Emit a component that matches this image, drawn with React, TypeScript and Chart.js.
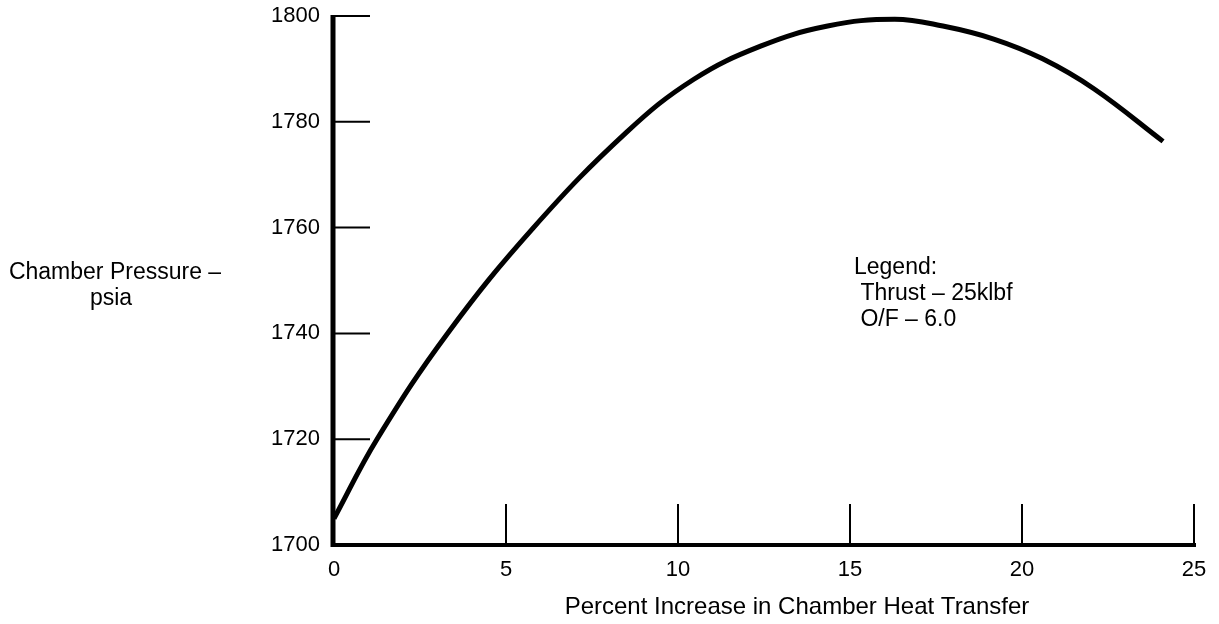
import React, { useEffect, useRef } from "react";
import { Chart, registerables } from "chart.js";

Chart.register(...registerables);

// Percent increase in chamber heat transfer (x) vs chamber pressure, psia (y)
const heatIncrease = [0, 1.25, 3.3, 5.8, 8.5, 10.45, 12.4, 14.35, 16.3, 17.7, 19.2, 20.6, 22.1, 24.1];
const chamberPressure = [1705, 1720, 1740, 1760, 1778, 1788, 1794.3, 1798.1, 1799.4, 1798.1, 1795.6, 1791.9, 1786.2, 1776.3];

const xTickValues = [0, 5, 10, 15, 20, 25];
const yTickValues = [1700, 1720, 1740, 1760, 1780, 1800];

const yTitleLines = ["Chamber Pressure –", "psia"];
const xTitle = "Percent Increase in Chamber Heat Transfer";
const legendLines = ["Legend:", " Thrust – 25klbf", " O/F – 6.0"];

const FONT = "'Liberation Sans', Arial, Helvetica, sans-serif";

export default function App() {
  const ref = useRef<HTMLCanvasElement | null>(null);

  useEffect(() => {
    const canvas = ref.current;
    if (!canvas) return;

    const decor = {
      id: "decor",
      afterDraw(chart: any) {
        const ctx = chart.ctx;
        const xs = chart.scales.x;
        const ys = chart.scales.y;
        const x0 = xs.getPixelForValue(xTickValues[0]);
        const y0 = ys.getPixelForValue(yTickValues[0]);
        ctx.save();
        ctx.strokeStyle = "#000";
        ctx.lineCap = "butt";
        // y axis line
        ctx.lineWidth = 5;
        ctx.beginPath();
        ctx.moveTo(x0 - 1, ys.getPixelForValue(yTickValues[yTickValues.length - 1]) - 1);
        ctx.lineTo(x0 - 1, y0 + 2);
        ctx.stroke();
        // x axis line
        ctx.lineWidth = 4;
        ctx.beginPath();
        ctx.moveTo(x0 - 3, y0);
        ctx.lineTo(xs.getPixelForValue(xTickValues[xTickValues.length - 1]) + 2, y0);
        ctx.stroke();
        // y tick marks (inside)
        ctx.lineWidth = 2;
        yTickValues.slice(1).forEach((v) => {
          const py = ys.getPixelForValue(v);
          ctx.beginPath();
          ctx.moveTo(x0, py);
          ctx.lineTo(x0 + 36, py);
          ctx.stroke();
        });
        // x tick marks (inside, upward)
        xTickValues.slice(1).forEach((v) => {
          const px = xs.getPixelForValue(v);
          ctx.beginPath();
          ctx.moveTo(px, y0);
          ctx.lineTo(px, y0 - 41);
          ctx.stroke();
        });
        // texts
        ctx.fillStyle = "#000";
        ctx.font = `23px ${FONT}`;
        ctx.textBaseline = "middle";
        ctx.textAlign = "center";
        ctx.fillText(yTitleLines[0], 115, 273);
        ctx.fillText(yTitleLines[1], 111, 299);
        legendLines.forEach((t, i) => {
          ctx.textAlign = "left";
          ctx.fillText(t, 854, 268 + i * 26);
        });
        ctx.textAlign = "center";
        ctx.font = `24px ${FONT}`;
        ctx.fillText(xTitle, 797, 607);
        ctx.restore();
      },
    };

    const chart = new Chart(canvas, {
      type: "line",
      data: {
        datasets: [
          {
            data: heatIncrease.map((x, i) => ({ x, y: chamberPressure[i] })),
            borderColor: "#000",
            borderWidth: 5,
            pointRadius: 0,
            tension: 0.4,
            fill: false,
          },
        ],
      },
      options: {
        responsive: false,
        animation: false,
        layout: { padding: { left: 0, top: 16, right: 25, bottom: 0 } },
        plugins: { legend: { display: false }, tooltip: { enabled: false } },
        scales: {
          x: {
            type: "linear",
            min: 0,
            max: 25,
            afterBuildTicks: (s: any) => {
              s.ticks = xTickValues.map((v) => ({ value: v }));
            },
            afterFit: (s: any) => {
              s.height = 79;
              s.paddingLeft = 0;
              s.paddingRight = 0;
            },
            grid: { display: false, drawTicks: false },
            border: { display: false },
            ticks: {
              color: "#000",
              font: { family: FONT, size: 22 },
              padding: 12,
              maxRotation: 0,
              callback: (v: any) => String(v),
            },
          },
          y: {
            type: "linear",
            min: 1700,
            max: 1800,
            afterBuildTicks: (s: any) => {
              s.ticks = yTickValues.map((v) => ({ value: v }));
            },
            afterFit: (s: any) => {
              s.width = 334;
              s.paddingTop = 0;
              s.paddingBottom = 0;
            },
            grid: { display: false, drawTicks: false },
            border: { display: false },
            ticks: {
              color: "#000",
              font: { family: FONT, size: 22 },
              padding: 14,
              callback: (v: any) => String(v),
            },
          },
        },
      },
      plugins: [decor],
    } as any);

    return () => chart.destroy();
  }, []);

  return (
    <div style={{ position: "fixed", left: 0, top: 0, width: 1219, height: 624, background: "#fff" }}>
      <canvas ref={ref} width={1219} height={624} />
    </div>
  );
}
